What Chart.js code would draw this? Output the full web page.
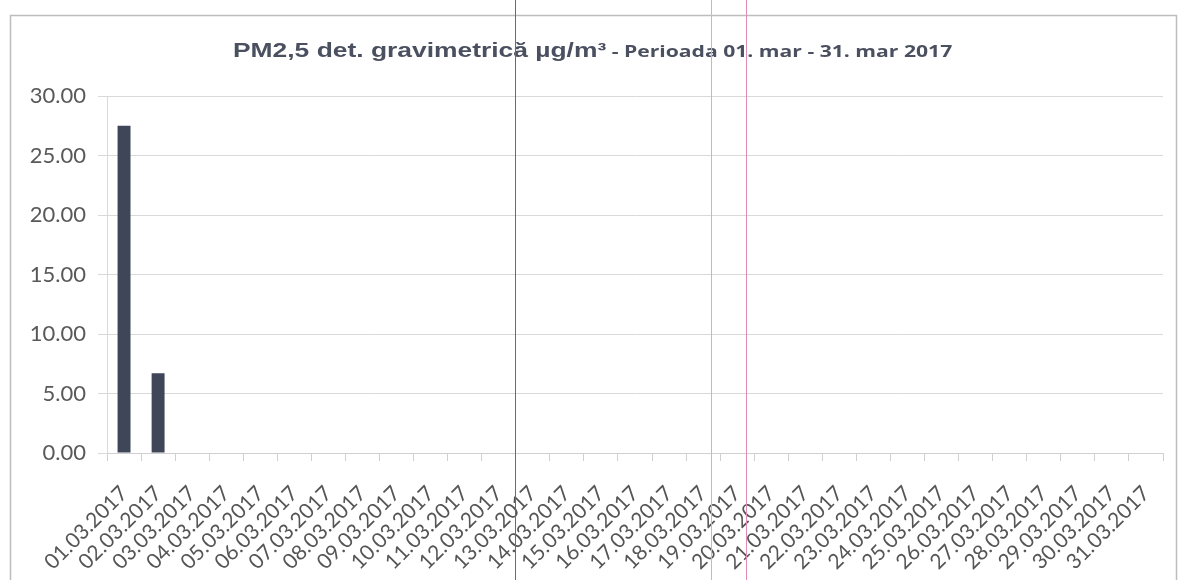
<!DOCTYPE html>
<html>
<head>
<meta charset="utf-8">
<script src="https://cdn.jsdelivr.net/npm/chart.js@4/dist/chart.umd.min.js"></script>
<style>
html,body{margin:0;padding:0;background:#fff;}
#wrap{width:1178px;height:580px;position:relative;}
</style>
</head>
<body>
<div id="wrap"><canvas id="c" width="1178" height="580"></canvas></div>
<script>
const categories = ["01.03.2017","02.03.2017","03.03.2017","04.03.2017","05.03.2017","06.03.2017","07.03.2017","08.03.2017","09.03.2017","10.03.2017","11.03.2017","12.03.2017","13.03.2017","14.03.2017","15.03.2017","16.03.2017","17.03.2017","18.03.2017","19.03.2017","20.03.2017","21.03.2017","22.03.2017","23.03.2017","24.03.2017","25.03.2017","26.03.2017","27.03.2017","28.03.2017","29.03.2017","30.03.2017","31.03.2017"];
const pm25Values = [27.5, 6.7, null, null, null, null, null, null, null, null, null, null, null, null, null, null, null, null, null, null, null, null, null, null, null, null, null, null, null, null, null];
const titleMain = "PM2,5 det. gravimetrică µg/m³";
const titleSub = " - Perioada 01. mar - 31. mar 2017";
const yTicks = [0, 5, 10, 15, 20, 25, 30];

const decor = {
  id: 'decor',
  beforeDraw(chart) {
    const ctx = chart.ctx;
    ctx.save();
    ctx.strokeStyle = '#bdbdbd';
    ctx.lineWidth = 1.5;
    ctx.strokeRect(10.5, 15.5, 1166, 600);
    ctx.restore();
  },
  afterDraw(chart) {
    const ctx = chart.ctx;
    ctx.save();
    // title (horizontally stretched like the reference)
    ctx.textBaseline = 'alphabetic';
    ctx.fillStyle = '#4b5060';
    const sx = 1.32;
    ctx.translate(233, 57);
    ctx.scale(sx, 1);
    ctx.font = 'bold 20px "Liberation Sans", Arial, sans-serif';
    const w1 = ctx.measureText(titleMain).width;
    ctx.fillText(titleMain, 0, 0);
    ctx.font = 'bold 16px "Open Sans", "Liberation Sans", sans-serif';
    ctx.fillText(titleSub, w1, 0);
    ctx.restore();
    ctx.save();
    // scan artefact lines
    ctx.lineWidth = 1;
    ctx.strokeStyle = '#6e6e58';
    ctx.beginPath(); ctx.moveTo(515.5, 0); ctx.lineTo(515.5, 580); ctx.stroke();
    ctx.strokeStyle = '#e3a8c8';
    ctx.beginPath(); ctx.moveTo(711.5, 0); ctx.lineTo(711.5, 580); ctx.stroke();
    ctx.strokeStyle = '#e08cb4';
    ctx.beginPath(); ctx.moveTo(746.5, 0); ctx.lineTo(746.5, 580); ctx.stroke();
    ctx.restore();
  }
};

new Chart(document.getElementById('c'), {
  type: 'bar',
  data: {
    labels: categories,
    datasets: [{
      data: pm25Values,
      backgroundColor: '#3f4658',
      borderWidth: 0,
      categoryPercentage: 1.0,
      barPercentage: 0.38
    }]
  },
  options: {
    responsive: false,
    animation: false,
    events: [],
    layout: { padding: { left: 0, right: 15, top: 96, bottom: 0 } },
    plugins: { legend: { display: false }, title: { display: false }, tooltip: { enabled: false } },
    scales: {
      x: {
        offset: true,
        grid: { offset: true, drawOnChartArea: false, color: '#d0d0d0', tickLength: 8 },
        border: { color: '#d0d0d0' },
        ticks: {
          minRotation: 45, maxRotation: 45, autoSkip: false,
          color: '#555555', padding: 20,
          font: { family: 'Lato, "Open Sans", sans-serif', size: 21 }
        },
        afterFit(scale) { scale.height = 127; scale.paddingRight = 0; scale.paddingLeft = 0; }
      },
      y: {
        min: 0, max: 30,
        afterBuildTicks(scale) { scale.ticks = yTicks.map(v => ({ value: v })); },
        grid: { color: '#d9d9d9', tickLength: 9 },
        border: { display: true, color: '#d9d9d9' },
        ticks: {
          color: '#595959', padding: 12,
          font: { family: 'Lato, "Open Sans", sans-serif', size: 22 },
          callback: v => Number(v).toFixed(2)
        },
        afterFit(scale) { scale.width = 107; scale.paddingTop = 0; scale.paddingBottom = 0; }
      }
    }
  },
  plugins: [decor]
});
</script>
</body>
</html>
